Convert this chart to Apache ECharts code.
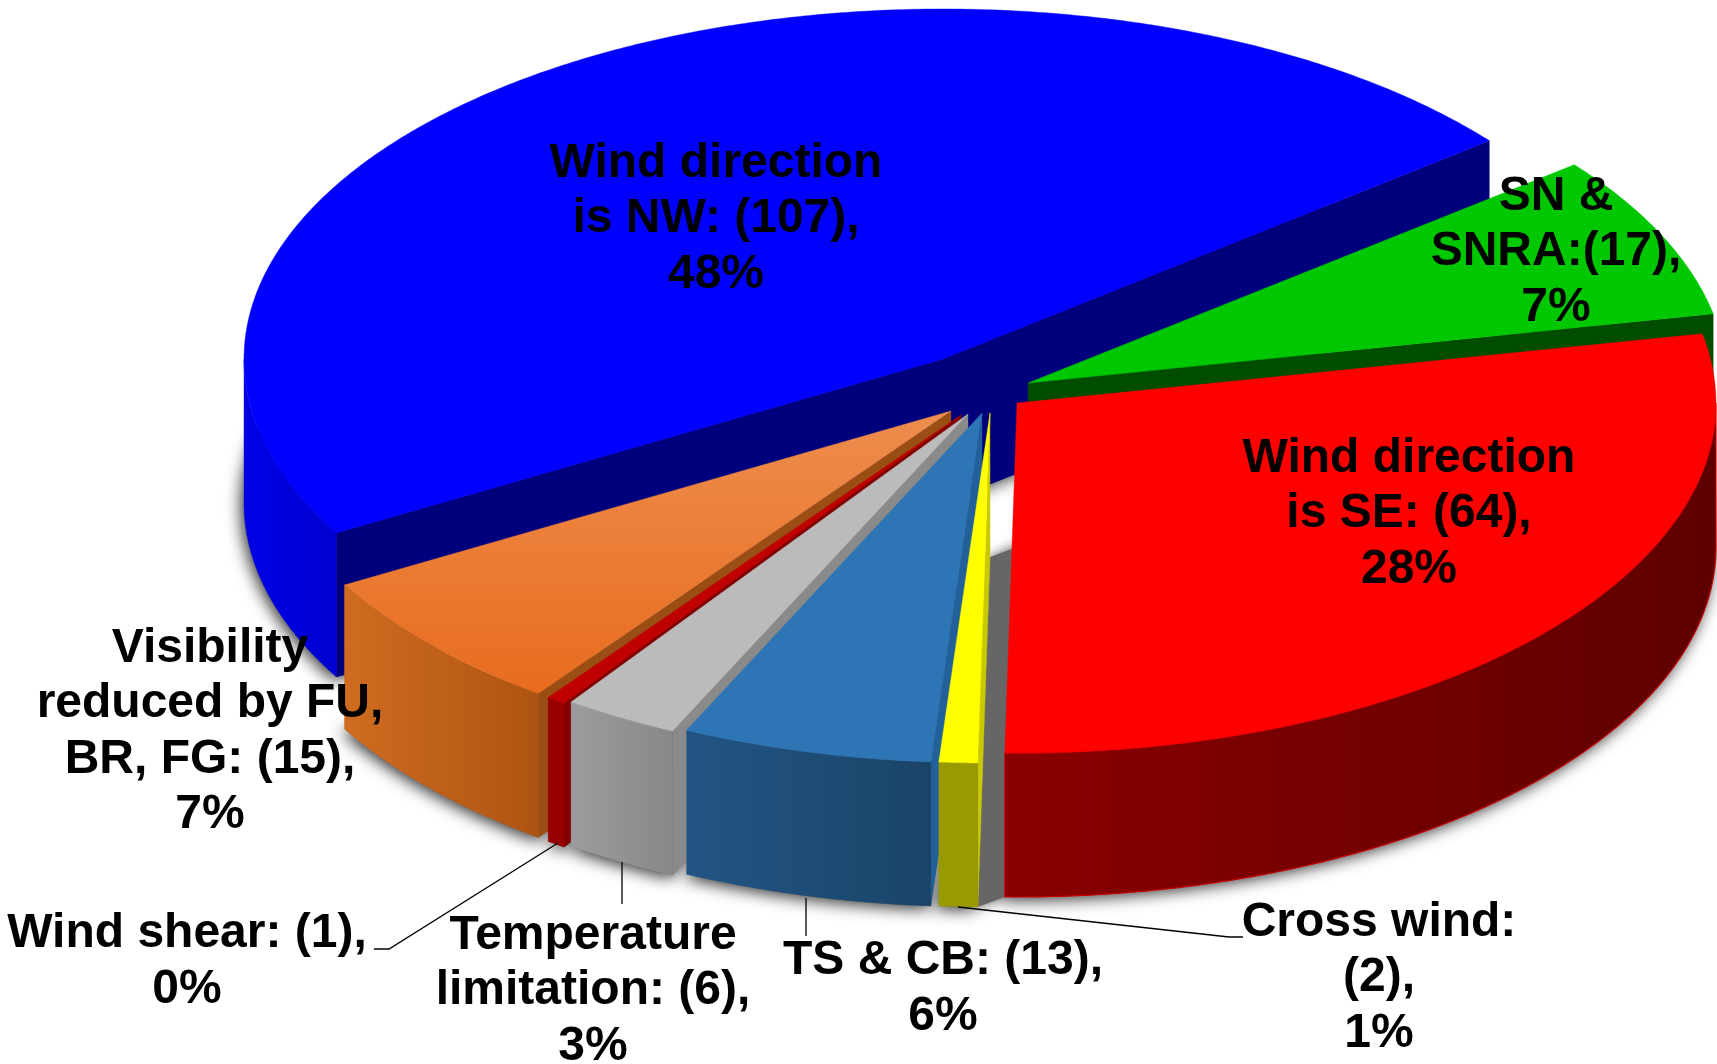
<!DOCTYPE html>
<html>
<head>
<meta charset="utf-8">
<title>Pie</title>
<script src="https://cdn.jsdelivr.net/npm/echarts@6/dist/echarts.min.js"></script>
<style>
  html, body { margin: 0; padding: 0; background: #fff; }
  #main { width: 1717px; height: 1064px; }
</style>
</head>
<body>
<div id="main"></div>
<script>
// data, clockwise from the NW slice
const categories = ['Wind direction is NW', 'SN & SNRA', 'Wind direction is SE', 'Cross wind', 'TS & CB', 'Temperature limitation', 'Wind shear', 'Visibility reduced by FU, BR, FG'];
const counts = [107, 17, 64, 2, 13, 6, 1, 15];
const labelTexts = [
  'Wind direction\nis NW: (107),\n48%',
  'SN &\nSNRA:(17),\n7%',
  'Wind direction\nis SE: (64),\n28%',
  'Cross wind:\n(2),\n1%',
  'TS & CB: (13),\n6%',
  'Temperature\nlimitation: (6),\n3%',
  'Wind shear: (1),\n0%',
  'Visibility\nreduced by FU,\nBR, FG: (15),\n7%'
];

// layout of the tilted pie
const startAngle = 240.2;
const radiusX = 699;
const radiusY = 350;
const depth = 144;
const sliceCentre = [[943, 359], [1028, 383], [1017, 403], [990, 413], [982, 413], [968, 414], [961, 415], [951, 411]];
const labelPos = [[716, 219], [1556, 252], [1409, 514], [1379, 978], [943, 989], [593, 991], [187, 962], [210, 732]];
const leaderLines = [
  [[958, 907], [1229, 937], [1243, 937]],
  [[806, 898], [806, 936]],
  [[622, 862], [622, 904]],
  [[558, 843], [389, 949], [374, 949]]
];

// colours
const grad = function (c0, c1, vertical) {
  return new echarts.graphic.LinearGradient(0, 0, vertical ? 0 : 1, vertical ? 1 : 0, [
    { offset: 0, color: c0 },
    { offset: 1, color: c1 }
  ]);
};
const topColors = ['#0000ff', '#00c800', '#ff0000', '#ffff00', '#2e75b6', '#bbbbbb', '#c00000', grad('#ee8d4e', '#e86c1e', true)];
const cutColors = ['#00007c', '#004d00', '#800000', '#c9c900', '#22609a', '#8a8a8a', '#800000', '#9a4e14'];
const rimColors = [
  grad('#0000e6', '#0000d0'),
  '#004d00',
  grad('#8a0000', '#5e0000'),
  '#999900',
  grad('#225585', '#1a4467'),
  grad('#9c9c9c', '#888888'),
  '#980000',
  grad('#cf6c20', '#ae5412')
];

// slice boundaries come from the counts
const total = counts.reduce(function (a, b) { return a + b; }, 0);
const angles = [startAngle];
counts.forEach(function (c, i) {
  angles.push(angles[i] + c / total * 360);
});

function toPoint(i, deg, drop) {
  const a = deg * Math.PI / 180;
  return [sliceCentre[i][0] + radiusX * Math.sin(a), sliceCentre[i][1] - radiusY * Math.cos(a) + (drop || 0)];
}
function arcPoints(i, a0, a1, drop) {
  const pts = [];
  const n = Math.max(2, Math.ceil((a1 - a0) * 2));
  for (let k = 0; k <= n; k++) {
    pts.push(toPoint(i, a0 + (a1 - a0) * k / n, drop));
  }
  return pts;
}
function centrePoint(i, drop) {
  return [sliceCentre[i][0], sliceCentre[i][1] + (drop || 0)];
}
function poly(points, fill, stroke) {
  return {
    type: 'polygon',
    shape: { points: points },
    style: { fill: fill, stroke: stroke || fill, lineWidth: stroke ? 1.2 : 0.4 }
  };
}

// soft shadow on the floor under the pie
function renderShadow(params, api) {
  const i = api.value(0);
  const pts = [centrePoint(i, depth)].concat(arcPoints(i, angles[i], angles[i + 1], depth));
  const children = [{
    type: 'polygon',
    shape: { points: pts },
    style: {
      fill: '#666666',
      shadowColor: 'rgba(0,0,0,0.8)',
      shadowBlur: 16,
      shadowOffsetX: -3,
      shadowOffsetY: 3
    }
  }];
  // gap between the SE slice and the cross wind slice
  if (i === 2) {
    children.push({
      type: 'polygon',
      shape: {
        points: [centrePoint(3, depth), centrePoint(2, depth), toPoint(2, angles[3], depth), toPoint(3, angles[3], depth)]
      },
      style: { fill: '#666666', shadowColor: '#666666', shadowBlur: 12 }
    });
  }
  return { type: 'group', children: children };
}

function renderSlice(params, api) {
  const i = api.value(0);
  const a0 = angles[i];
  const a1 = angles[i + 1];
  const children = [];
  // cut faces that look towards the viewer
  if (Math.sin(a0 * Math.PI / 180) < 0) {
    children.push(poly([centrePoint(i), toPoint(i, a0), toPoint(i, a0, depth), centrePoint(i, depth)], cutColors[i]));
  }
  if (Math.sin(a1 * Math.PI / 180) > 0) {
    children.push(poly([centrePoint(i), toPoint(i, a1), toPoint(i, a1, depth), centrePoint(i, depth)], cutColors[i]));
  }
  // outer wall, only the front half of the ellipse
  [0, 1].forEach(function (turn) {
    const lo = Math.max(a0, 90 + 360 * turn);
    const hi = Math.min(a1, 270 + 360 * turn);
    if (lo < hi) {
      const pts = arcPoints(i, lo, hi).concat(arcPoints(i, lo, hi, depth).reverse());
      children.push(poly(pts, rimColors[i], i === 2 ? '#c80000' : null));
    }
  });
  // top face
  children.push(poly([centrePoint(i)].concat(arcPoints(i, a0, a1)), topColors[i]));
  return { type: 'group', children: children };
}

function renderLeader(params, api) {
  return {
    type: 'polyline',
    shape: { points: leaderLines[api.value(0)] },
    style: { stroke: '#000', lineWidth: 1.3, fill: null }
  };
}

function renderLabel(params, api) {
  const i = api.value(0);
  return {
    type: 'text',
    style: {
      text: labelTexts[i],
      x: labelPos[i][0],
      y: labelPos[i][1],
      fill: '#000',
      fontFamily: '"Liberation Sans", Arial, sans-serif',
      fontWeight: 'bold',
      fontSize: 48,
      lineHeight: 55.5,
      align: 'center',
      verticalAlign: 'middle'
    }
  };
}

const myChart = echarts.init(document.getElementById('main'), null, { renderer: 'canvas' });
// paint order: back to front
const drawOrder = [0, 1, 7, 6, 5, 4, 3, 2];
const options = {
  backgroundColor: '#ffffff',
  animation: false,
  series: [
    {
      type: 'custom',
      coordinateSystem: 'none',
      silent: true,
      clip: false,
      renderItem: renderShadow,
      data: drawOrder.map(function (i) { return [i, categories[i], counts[i]]; })
    },
    {
      type: 'custom',
      coordinateSystem: 'none',
      silent: true,
      clip: false,
      renderItem: renderSlice,
      data: drawOrder.map(function (i) { return [i, categories[i], counts[i]]; })
    },
    {
      type: 'custom',
      coordinateSystem: 'none',
      silent: true,
      clip: false,
      renderItem: renderLeader,
      data: leaderLines.map(function (l, i) { return [i]; })
    },
    {
      type: 'custom',
      coordinateSystem: 'none',
      silent: true,
      clip: false,
      renderItem: renderLabel,
      data: labelTexts.map(function (t, i) { return [i]; })
    }
  ]
};
myChart.setOption(options);
</script>
</body>
</html>
